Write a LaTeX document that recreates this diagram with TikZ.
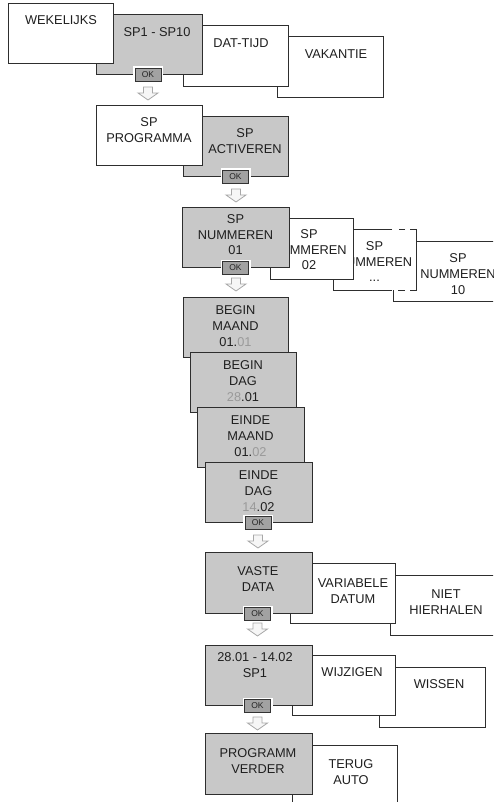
\documentclass[tikz,border=0pt]{standalone}
\usepackage{fontspec}
\setmainfont{Liberation Sans}
\definecolor{edge}{HTML}{2E2E2E}
\definecolor{boxgray}{HTML}{C8C8C8}
\definecolor{okgray}{HTML}{A2A2A2}
\definecolor{dig}{HTML}{9A9A9A}
\definecolor{arrline}{HTML}{A8A8A8}
\definecolor{arrfill}{HTML}{F6F6F6}
\newcommand\mlines[1]{\begin{tabular}[t]{@{}c@{}}#1\end{tabular}}
\newcommand\gd[1]{\textcolor{dig}{#1}}
\tikzset{
  card/.style={draw=edge, line width=0.8pt, fill=white, inner sep=0pt, outer sep=0pt, anchor=north west},
  gcard/.style={card, fill=boxgray},
  txt/.style={font=\fontsize{12.8}{16}\selectfont, text=black!88, anchor=base, inner sep=0pt},
  okbtn/.style={draw=black!80, fill=okgray, line width=0.7pt, minimum width=26pt, minimum height=13pt,
     inner sep=0pt, font=\fontsize{8.5}{9}\selectfont, text=black!85, preaction={draw=white, line width=4pt}},
  arr/.style={draw=arrline, fill=arrfill, line width=0.8pt, line join=miter},
  dedge/.style={draw=edge, line width=0.8pt},
}
\newcommand\card[6]{\node[#6, minimum width={#4-#2}, minimum height={#5-#3}] (#1) at (#2,#3) {};}
\newcommand\dnarrow[2]{\draw[arr] (#1-4.5,#2) -- (#1+4.5,#2) -- (#1+4.5,#2+6) -- (#1+10,#2+6) -- (#1,#2+13) -- (#1-10,#2+6) -- (#1-4.5,#2+6) -- cycle;}
\begin{document}
\begin{tikzpicture}[x=1pt,y=-1pt]
\useasboundingbox (0,0) rectangle (493,802);
\clip (0,0) rectangle (493,802);
% ---------- row 1
\card{vak}{277}{36}{383}{97}{card}
\node[txt] (tvak) at (336,59) {VAKANTIE};
\card{dat}{183}{25}{288}{86}{card}
\node[txt] (tdat) at (241,48) {DAT-TIJD};
\card{sp}{96}{14}{202}{74}{gcard}
\node[txt] (tsp) at (157,36.5) {SP1 - SP10};
\card{wek}{8}{3}{113}{63}{card}
\node[txt] (twek) at (61,25) {WEKELIJKS};
\node[okbtn] (ok1) at (148,74.5) {OK};
\dnarrow{148}{87}
% ---------- row 2
\card{act}{183}{116}{288}{176}{gcard}
\node[txt] (tact) at (245,138) {\mlines{SP\\ACTIVEREN}};
\card{prg}{96}{105}{202}{165}{card}
\node[txt] (tprg) at (149,127) {\mlines{SP\\PROGRAMMA}};
\node[okbtn] (ok2) at (235.5,176.5) {OK};
\dnarrow{236}{189}
% ---------- row 3
\card{n10}{393}{241}{523}{301}{card}
\node[txt] (t10) at (458,262) {\mlines{SP\\NUMMEREN\\10}};
\node[fill=white, inner sep=0pt, minimum width=83pt, minimum height=61pt, anchor=north west] (ndots) at (333,229) {};
\draw[dedge] (333,229) -- (333,290) -- (392,290);
\draw[dedge] (398,290) -- (405,290);
\draw[dedge] (410,290) -- (416,290) -- (416,229) -- (410,229);
\draw[dedge] (405,229) -- (399,229);
\draw[dedge] (392,229) -- (333,229);
\node[txt] (tdots) at (374.5,250) {\mlines{SP\\NUMMEREN\\...}};
\card{n02}{270}{218}{353}{279}{card}
\node[txt] (t02) at (309,238) {\mlines{SP\\NUMMEREN\\02}};
\card{n01}{182}{207}{289}{267}{gcard}
\node[txt] (t01) at (235.5,223) {\mlines{SP\\NUMMEREN\\01}};
\node[okbtn] (ok3) at (235.5,268) {OK};
\dnarrow{236}{278}
% ---------- row 4
\card{bm}{183}{297}{288}{357}{gcard}
\node[txt] (tbm) at (235.5,314) {\mlines{BEGIN\\MAAND\\01.\gd{01}}};
\card{bd}{190}{352}{296}{412}{gcard}
\node[txt] (tbd) at (243,369) {\mlines{BEGIN\\DAG\\\gd{28}.01}};
\card{em}{197}{407}{304}{467}{gcard}
\node[txt] (tem) at (250.5,424) {\mlines{EINDE\\MAAND\\01.\gd{02}}};
\card{ed}{205}{462}{312}{522}{gcard}
\node[txt] (ted) at (258.5,479) {\mlines{EINDE\\DAG\\\gd{14}.02}};
\node[okbtn] (ok4) at (258,523) {OK};
\dnarrow{258}{535}
% ---------- row 5
\card{niet}{390}{575}{496}{635}{card}
\node[txt] (tniet) at (446,598) {\mlines{NIET\\HIERHALEN}};
\card{var}{290}{563}{395}{623}{card}
\node[txt] (tvar) at (353,587) {\mlines{VARIABELE\\DATUM}};
\card{vas}{205}{552}{312}{613}{gcard}
\node[txt] (tvas) at (258,575) {\mlines{VASTE\\DATA}};
\node[okbtn] (ok5) at (257.5,614) {OK};
\dnarrow{257.5}{623}
% ---------- row 6
\card{wis}{379}{667}{485}{727}{card}
\node[txt] (twis) at (439,688) {WISSEN};
\card{wij}{292}{655}{395}{715}{card}
\node[txt] (twij) at (352,676) {WIJZIGEN};
\card{sp1}{205}{645}{312}{705}{gcard}
\node[txt] (tsp1) at (255,661) {\mlines{28.01 - 14.02\\SP1}};
\node[okbtn] (ok6) at (257.5,706) {OK};
\dnarrow{257.5}{717}
% ---------- row 7
\card{ter}{292}{745}{397}{812}{card}
\node[txt] (tter) at (351,768) {\mlines{TERUG\\AUTO}};
\card{pv}{205}{733}{312}{794}{gcard}
\node[txt] (tpv) at (258,757) {\mlines{PROGRAMM\\VERDER}};
\end{tikzpicture}
\end{document}
